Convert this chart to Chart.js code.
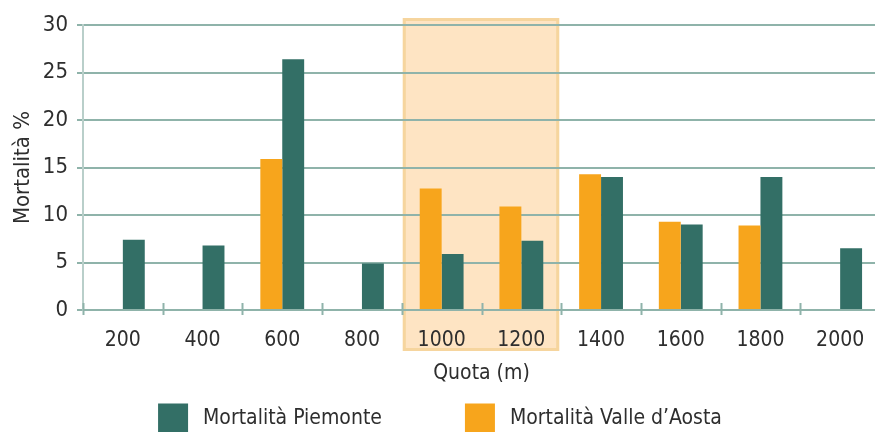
<!DOCTYPE html>
<html>
<head>
<meta charset="utf-8">
<script src="https://cdn.jsdelivr.net/npm/chart.js@4/dist/chart.umd.min.js"></script>
<style>
  body { margin: 0; background: #fff; overflow: hidden; }
</style>
</head>
<body>
<canvas id="mortalita" width="880" height="432"></canvas>
<script>
// Data
const quote = ['200', '400', '600', '800', '1000', '1200', '1400', '1600', '1800', '2000'];
const valleAosta = [null, null, 15.9, null, 12.8, 10.9, 14.3, 9.3, 8.9, null];
const piemonte = [7.4, 6.8, 26.4, 4.9, 5.9, 7.3, 14.0, 9.0, 14.0, 6.5];
const yTicks = [0, 5, 10, 15, 20, 25, 30];
const highlighted = ['1000', '1200'];

const FONT = "'Liberation Sans Narrow', 'DejaVu Sans Condensed', 'Open Sans', sans-serif";
const TEXT = '#2e2e2e';
const GRID = '#8fb3aa';
const GREEN = '#336f66';
const ORANGE = '#f7a51c';

// Peach band behind the highlighted categories
const bandPlugin = {
    id: 'band',
    beforeDraw(chart) {
        const x = chart.scales.x;
        const y = chart.scales.y;
        const ctx = chart.ctx;
        const half = (x.getPixelForValue(1) - x.getPixelForValue(0)) / 2;
        const left = x.getPixelForValue(quote.indexOf(highlighted[0])) - half + 1;
        const right = x.getPixelForValue(quote.indexOf(highlighted[1])) + half - 2;
        const top = y.top - 7;
        const bottom = y.bottom + 41;
        ctx.save();
        ctx.fillStyle = '#fee4c3';
        ctx.fillRect(left, top, right - left, bottom - top);
        ctx.strokeStyle = '#f6d59e';
        ctx.lineWidth = 3;
        ctx.strokeRect(left + 1.5, top + 1.5, right - left - 3, bottom - top - 3);
        ctx.restore();
    }
};

// Small tick marks crossing the x axis between categories
const xTickPlugin = {
    id: 'xTicks',
    afterDraw(chart) {
        const x = chart.scales.x;
        const ctx = chart.ctx;
        const step = x.getPixelForValue(1) - x.getPixelForValue(0);
        const base = x.top;
        ctx.save();
        ctx.strokeStyle = GRID;
        ctx.lineWidth = 2;
        for (let i = 0; i <= quote.length; i++) {
            const px = Math.round(x.getPixelForValue(0) - step / 2 + i * step) + 0.5;
            ctx.beginPath();
            ctx.moveTo(px, base - 7);
            ctx.lineTo(px, base + 5);
            ctx.stroke();
        }
        ctx.restore();
    }
};

// Legend drawn at the bottom, Piemonte first
const legendPlugin = {
    id: 'bottomLegend',
    afterDraw(chart) {
        const ctx = chart.ctx;
        const items = [chart.data.datasets[1], chart.data.datasets[0]];
        const box = 29, gapText = 16, gapItem = 83;
        ctx.save();
        ctx.font = '21px ' + FONT;
        ctx.textBaseline = 'middle';
        const widths = items.map(d => box + gapText + ctx.measureText(d.label).width);
        const total = widths.reduce((a, b) => a + b, 0) + gapItem * (items.length - 1);
        let px = (chart.width - total) / 2;
        const cy = 418;
        items.forEach((d, i) => {
            ctx.fillStyle = d.backgroundColor;
            ctx.fillRect(px, cy - box / 2, box + 1, box);
            ctx.fillStyle = TEXT;
            ctx.fillText(d.label, px + box + gapText, cy + 1);
            px += widths[i] + gapItem;
        });
        ctx.restore();
    }
};

const ctx = document.getElementById('mortalita').getContext('2d');
const chart = new Chart(ctx, {
    type: 'bar',
    data: {
        labels: quote,
        datasets: [{
            label: 'Mortalità Valle d’Aosta',
            data: valleAosta,
            backgroundColor: ORANGE,
            barPercentage: 1,
            categoryPercentage: 0.55
        }, {
            label: 'Mortalità Piemonte',
            data: piemonte,
            backgroundColor: GREEN,
            barPercentage: 1,
            categoryPercentage: 0.55
        }]
    },
    options: {
        responsive: false,
        animation: false,
        layout: { padding: { top: 25, right: 0, left: 0, bottom: 0 } },
        plugins: {
            legend: { display: false },
            tooltip: { enabled: false }
        },
        scales: {
            x: {
                grid: { display: false },
                border: { display: true, color: GRID, width: 2 },
                ticks: { color: TEXT, padding: 10, font: { family: FONT, size: 21 } },
                title: {
                    display: true,
                    text: 'Quota (m)',
                    color: TEXT,
                    font: { family: FONT, size: 21 },
                    padding: { top: 0, bottom: 46 }
                },
                afterFit(scale) { scale.height = 122; }
            },
            y: {
                min: 0,
                max: 30,
                afterBuildTicks(scale) { scale.ticks = yTicks.map(v => ({ value: v })); },
                grid: { color: GRID, lineWidth: 2, tickLength: 6 },
                border: { display: true, color: '#b9cfca', width: 2 },
                ticks: { color: TEXT, padding: 9, font: { family: FONT, size: 22 } },
                title: {
                    display: true,
                    text: 'Mortalità %',
                    color: TEXT,
                    font: { family: FONT, size: 22 },
                    padding: { top: 10, bottom: 0 }
                },
                afterFit(scale) { scale.width = 83; }
            }
        }
    },
    plugins: [bandPlugin, xTickPlugin, legendPlugin]
});
</script>
</body>
</html>
